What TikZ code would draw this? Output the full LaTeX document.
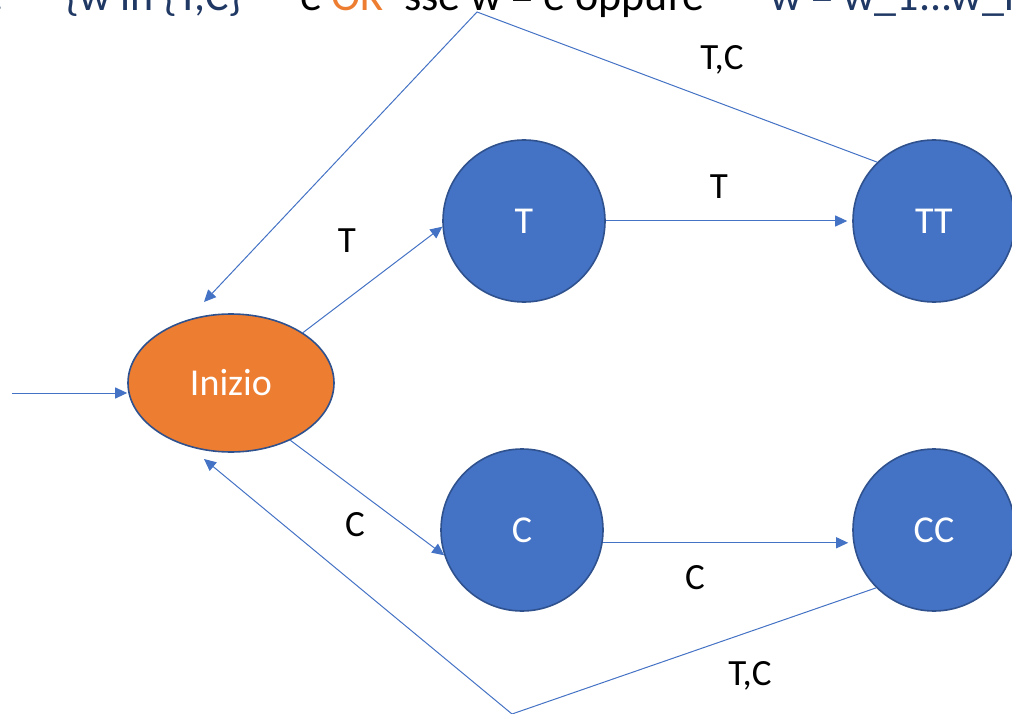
\documentclass[tikz,border=0pt]{standalone}
\usepackage{fontspec}
\setmainfont{Carlito}
\usetikzlibrary{arrows.meta,shapes.geometric}
\definecolor{nodeblue}{HTML}{4472C4}
\definecolor{edgeblue}{HTML}{4472C4}
\definecolor{rimblue}{HTML}{2F528F}
\definecolor{startorange}{HTML}{ED7D31}
\definecolor{navy}{HTML}{1F3864}

\begin{document}
\begin{tikzpicture}[x=1pt,y=-1pt,
  state/.style={circle, fill=nodeblue, draw=rimblue, line width=1.6pt,
    minimum size=162pt, inner sep=0pt, text=white,
    font=\fontsize{38}{40}\selectfont},
  initstate/.style={ellipse, fill=startorange, draw=rimblue, line width=1.6pt,
    minimum width=206pt, minimum height=138pt, inner sep=0pt, text=white,
    font=\fontsize{38}{40}\selectfont},
  trans/.style={draw=edgeblue, line width=1pt,
    -{Triangle[length=12pt,width=11pt]}},
  lbl/.style={font=\fontsize{37}{40}\selectfont, inner sep=0pt},
  heading/.style={font=\fontsize{44}{48}\selectfont, anchor=base west,
    inner sep=0pt}]
\useasboundingbox (0,0) rectangle (1012,714);

% heading line (runs off the top edge)
\node[heading, anchor=base east, text=navy] (h0) at (4,11) {L:};
\node[heading, text=navy] (h1) at (65,11) {\{w in \{T,C\}*};
\node[heading, text=black] (h2) at (268,11) {– e};
\node[heading, text=startorange] (h3) at (331,11) {OK};
\node[heading, text=black] (h4) at (404,11) {sse w = e oppure};
\node[heading, text=navy] (h5) at (770,11) {w = w\_1...w\_n};

% states
\node[initstate] (ini) at (231,383) {Inizio};
\node[state] (T)  at (524,221) {T};
\node[state] (TT) at (934,221) {TT};
\node[state] (C)  at (522,530) {C};
\node[state] (CC) at (934,530) {CC};

% free ends of the connectors
\coordinate (entry) at (12,393);
\coordinate (topbend) at (477,12);
\coordinate (backA) at (204,302);
\coordinate (botbend) at (512,714);
\coordinate (backB) at (204,459);

% transitions
\draw[trans] (entry) -- (entry -| ini.west);
\draw[trans] (ini.35) -- (T.184);
\draw[trans] (ini.-44) -- (C.198);
\draw[trans, shorten >=5pt] (T.east) -- (TT.west);
\draw[trans, shorten >=5pt] (C.-9) -- (CC.189);
\draw[trans] (TT.134) -- (topbend) -- (backA);
\draw[trans] (CC.225) -- (botbend) -- (backB);

% labels
\node[lbl] (l1) at (347,241) {T};
\node[lbl] (l2) at (355,525) {C};
\node[lbl] (l3) at (719,187) {T};
\node[lbl] (l4) at (695,578) {C};
\node[lbl] (l5) at (722,60) {T,C};
\node[lbl] (l6) at (750,676) {T,C};
\end{tikzpicture}
\end{document}
